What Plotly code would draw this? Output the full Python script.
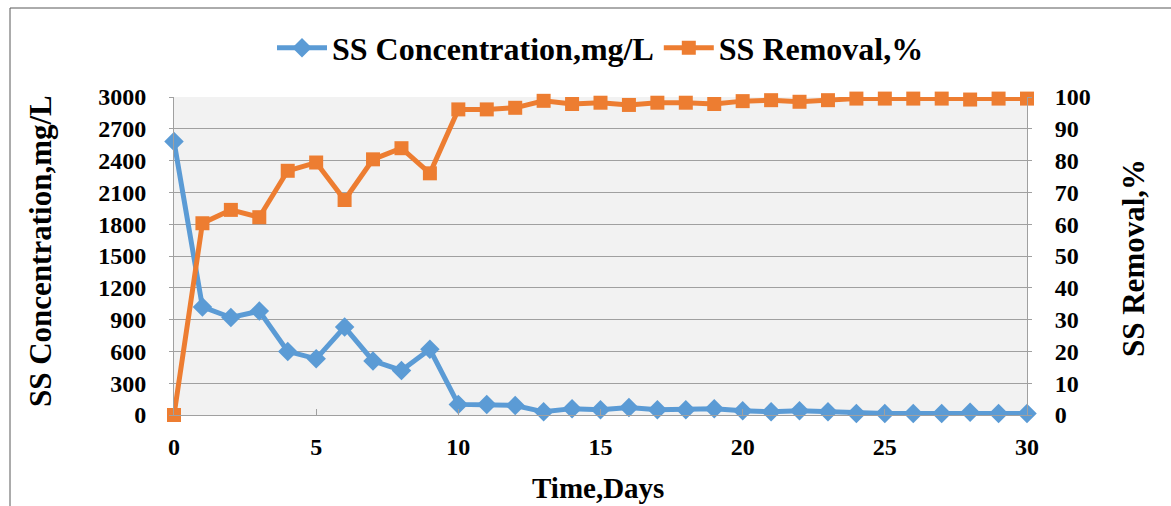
import plotly.graph_objects as go

days = list(range(0, 31))
ss_conc = [2580, 1020, 920, 980, 600, 530, 830, 510, 420, 620, 100,
           100, 90, 30, 60, 50, 70, 50, 50, 60, 40,
           30, 40, 30, 15, 15, 15, 15, 25, 15, 15]
ss_removal = [0, 60.3, 64.5, 62.2, 76.8, 79.4, 67.6, 80.4, 83.9, 76.0, 96.1,
              96.1, 96.6, 98.8, 97.8, 98.2, 97.5, 98.2, 98.2, 97.8, 98.7,
              99.0, 98.5, 99.0, 99.5, 99.5, 99.5, 99.5, 99.2, 99.5, 99.5]

BLUE = "#5b9bd5"
ORANGE = "#ed7d31"
FONT = "Liberation Serif"
GRID = "#a0a0a0"

fig = go.Figure()
fig.add_trace(go.Scatter(
    x=days, y=ss_conc, name="SS Concentration,mg/L", mode="lines+markers",
    line=dict(color=BLUE, width=5),
    marker=dict(symbol="diamond", size=15, color=BLUE),
    cliponaxis=False, yaxis="y"))
fig.add_trace(go.Scatter(
    x=days, y=ss_removal, name="SS Removal,%", mode="lines+markers",
    line=dict(color=ORANGE, width=5),
    marker=dict(symbol="square", size=14, color=ORANGE),
    cliponaxis=False, yaxis="y2"))

tickfont = dict(family=FONT, size=24, color="black", weight="bold")

fig.update_layout(
    width=1171, height=506,
    margin=dict(l=174, r=144, t=97, b=91),
    paper_bgcolor="white", plot_bgcolor="#f2f2f2",
    font=dict(family=FONT, color="black"),
    showlegend=True,
    legend=dict(orientation="h", x=0.5, xanchor="center", y=1.154, yanchor="middle",
                font=dict(family=FONT, size=32, color="black", weight="bold"),
                itemwidth=50, tracegroupgap=0, bgcolor="rgba(0,0,0,0)"),
    xaxis=dict(range=[0, 30], dtick=5, tick0=0, showgrid=False, zeroline=False,
               showline=True, linecolor=GRID, linewidth=1,
               ticks="inside", ticklen=6, tickcolor=GRID,
               tickfont=tickfont, ticklabelstandoff=10),
    yaxis=dict(range=[0, 3000], dtick=300, tick0=0, showgrid=True, gridcolor=GRID,
               gridwidth=1, zeroline=False, showline=True, linecolor=GRID,
               ticks="outside", ticklen=4, tickcolor=GRID,
               tickfont=tickfont, ticklabelstandoff=18),
    yaxis2=dict(range=[0, 100], dtick=10, tick0=0, overlaying="y", side="right",
                showgrid=False, zeroline=False, showline=True, linecolor=GRID,
                ticks="outside", ticklen=4, tickcolor=GRID,
                tickfont=tickfont, ticklabelstandoff=18),
    annotations=[
        dict(text="SS Concentration,mg/L", xref="paper", yref="paper",
             x=(40 - 174) / 853, y=(415 - 251) / 318, xanchor="center", yanchor="middle",
             textangle=-90, showarrow=False,
             font=dict(family=FONT, size=31, color="black", weight="bold")),
        dict(text="SS Removal,%", xref="paper", yref="paper",
             x=(1133 - 174) / 853, y=(415 - 258) / 318, xanchor="center", yanchor="middle",
             textangle=-90, showarrow=False,
             font=dict(family=FONT, size=31, color="black", weight="bold")),
        dict(text="Time,Days", xref="paper", yref="paper",
             x=(598 - 174) / 853, y=(415 - 488) / 318, xanchor="center", yanchor="middle",
             showarrow=False,
             font=dict(family=FONT, size=29, color="black", weight="bold")),
    ],
    shapes=[dict(type="rect", xref="paper", yref="paper",
                 x0=(10 - 174) / 853, x1=(1180 - 174) / 853,
                 y0=(415 - 520) / 318, y1=(415 - 8) / 318,
                 line=dict(color="#595959", width=1), fillcolor="rgba(0,0,0,0)",
                 layer="below")],
)

fig.write_html("out.html")
